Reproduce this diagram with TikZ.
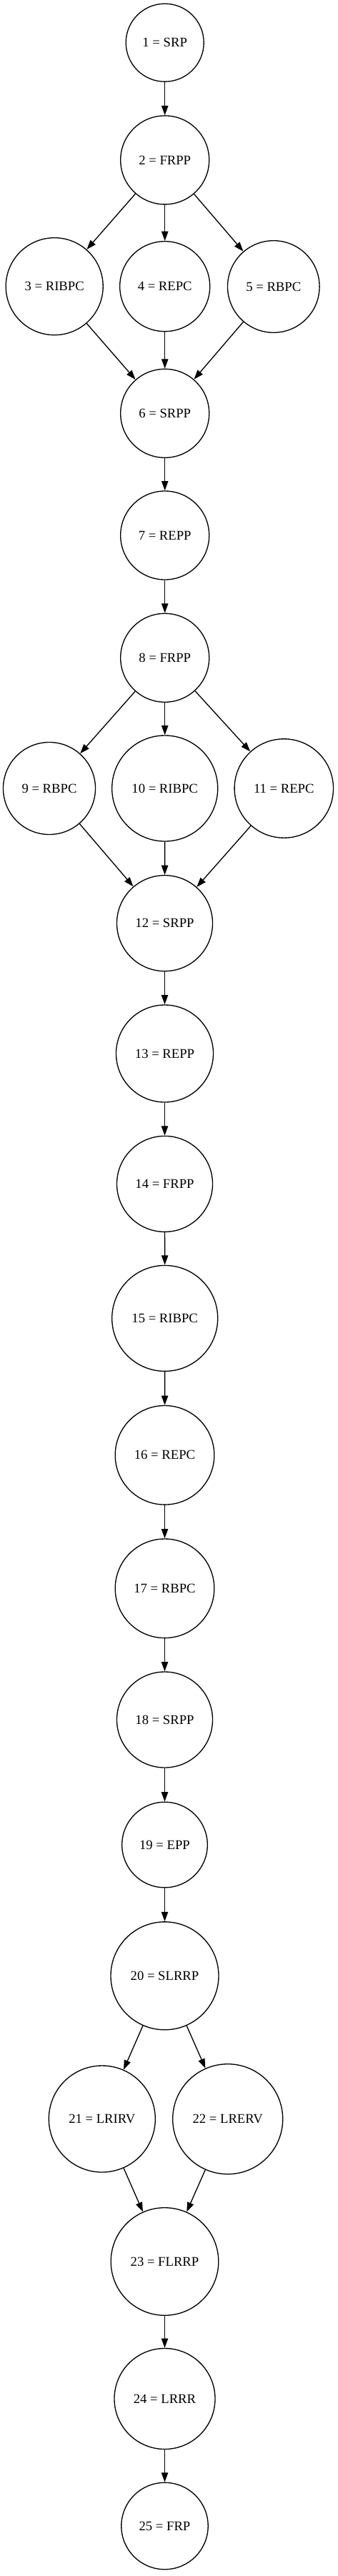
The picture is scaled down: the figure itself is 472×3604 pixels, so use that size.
\documentclass[tikz,border=0pt]{standalone}
\usepackage{fontspec}
\setmainfont{Liberation Serif}
\usetikzlibrary{arrows.meta}

\tikzset{every picture/.style={line width=1pt}}
\tikzset{
  proc/.style={draw, circle, inner sep=0pt, minimum size=1.5*#1pt, font=\fontsize{14}{16}\selectfont},
  flow/.style={-{Triangle[length=10pt,width=7pt]}}
}

\begin{document}
\begin{tikzpicture}[x=0.75pt,y=0.75pt,yscale=-1,xscale=1]
\useasboundingbox (0,0) rectangle (472,3604);

%Shape: Circle [id:n1]
\node [proc=54.5] (n1) at (230.7,59.7) {1 = SRP};
%Shape: Circle [id:n2]
\node [proc=62] (n2) at (230.7,223.9) {2 = FRPP};
%Shape: Circle [id:n3]
\node [proc=68] (n3) at (76.2,400.7) {3 = RIBPC};
%Shape: Circle [id:n4]
\node [proc=63] (n4) at (230.7,400.7) {4 = REPC};
%Shape: Circle [id:n5]
\node [proc=64.3] (n5) at (382.8,401) {5 = RBPC};
%Shape: Circle [id:n6]
\node [proc=62] (n6) at (230.7,578.3) {6 = SRPP};
%Shape: Circle [id:n7]
\node [proc=62] (n7) at (230.7,749) {7 = REPP};
%Shape: Circle [id:n8]
\node [proc=62] (n8) at (230.7,920.3) {8 = FRPP};
%Shape: Circle [id:n9]
\node [proc=64.5] (n9) at (69,1103) {9 = RBPC};
%Shape: Circle [id:n10]
\node [proc=74] (n10) at (230.7,1103) {10 = RIBPC};
%Shape: Circle [id:n11]
\node [proc=69.2] (n11) at (397.3,1103) {11 = REPC};
%Shape: Circle [id:n12]
\node [proc=67] (n12) at (230.5,1291.7) {12 = SRPP};
%Shape: Circle [id:n13]
\node [proc=68] (n13) at (230.5,1474) {13 = REPP};
%Shape: Circle [id:n14]
\node [proc=67] (n14) at (230.5,1656.4) {14 = FRPP};
%Shape: Circle [id:n15]
\node [proc=74] (n15) at (230.7,1844.4) {15 = RIBPC};
%Shape: Circle [id:n16]
\node [proc=69.3] (n16) at (230.5,2035.8) {16 = REPC};
%Shape: Circle [id:n17]
\node [proc=69.3] (n17) at (230.5,2222.3) {17 = RBPC};
%Shape: Circle [id:n18]
\node [proc=67] (n18) at (230.5,2406) {18 = SRPP};
%Shape: Circle [id:n19]
\node [proc=59.8] (n19) at (230.5,2581) {19 = EPP};
%Shape: Circle [id:n20]
\node [proc=75.5] (n20) at (230.5,2764.3) {20 = SLRRP};
%Shape: Circle [id:n21]
\node [proc=74.5] (n21) at (142.8,2964.5) {21 = LRIRV};
%Shape: Circle [id:n22]
\node [proc=77] (n22) at (318.7,2964.7) {22 = LRERV};
%Shape: Circle [id:n23]
\node [proc=75.3] (n23) at (230.5,3164) {23 = FLRRP};
%Shape: Circle [id:n24]
\node [proc=70.5] (n24) at (230.5,3356) {24 = LRRR};
%Shape: Circle [id:n25]
\node [proc=60.7] (n25) at (230.5,3534) {25 = FRP};

%Straight Lines
\draw [flow] (n1) -- (n2);
\draw [flow] (n2) -- (n3);
\draw [flow] (n2) -- (n4);
\draw [flow] (n2) -- (n5);
\draw [flow] (n3) -- (n6);
\draw [flow] (n4) -- (n6);
\draw [flow] (n5) -- (n6);
\draw [flow] (n6) -- (n7);
\draw [flow] (n7) -- (n8);
\draw [flow] (n8) -- (n9);
\draw [flow] (n8) -- (n10);
\draw [flow] (n8) -- (n11);
\draw [flow] (n9) -- (n12);
\draw [flow] (n10) -- (n12);
\draw [flow] (n11) -- (n12);
\draw [flow] (n12) -- (n13);
\draw [flow] (n13) -- (n14);
\draw [flow] (n14) -- (n15);
\draw [flow] (n15) -- (n16);
\draw [flow] (n16) -- (n17);
\draw [flow] (n17) -- (n18);
\draw [flow] (n18) -- (n19);
\draw [flow] (n19) -- (n20);
\draw [flow] (n20) -- (n21);
\draw [flow] (n20) -- (n22);
\draw [flow] (n21) -- (n23);
\draw [flow] (n22) -- (n23);
\draw [flow] (n23) -- (n24);
\draw [flow] (n24) -- (n25);

\end{tikzpicture}
\end{document}
